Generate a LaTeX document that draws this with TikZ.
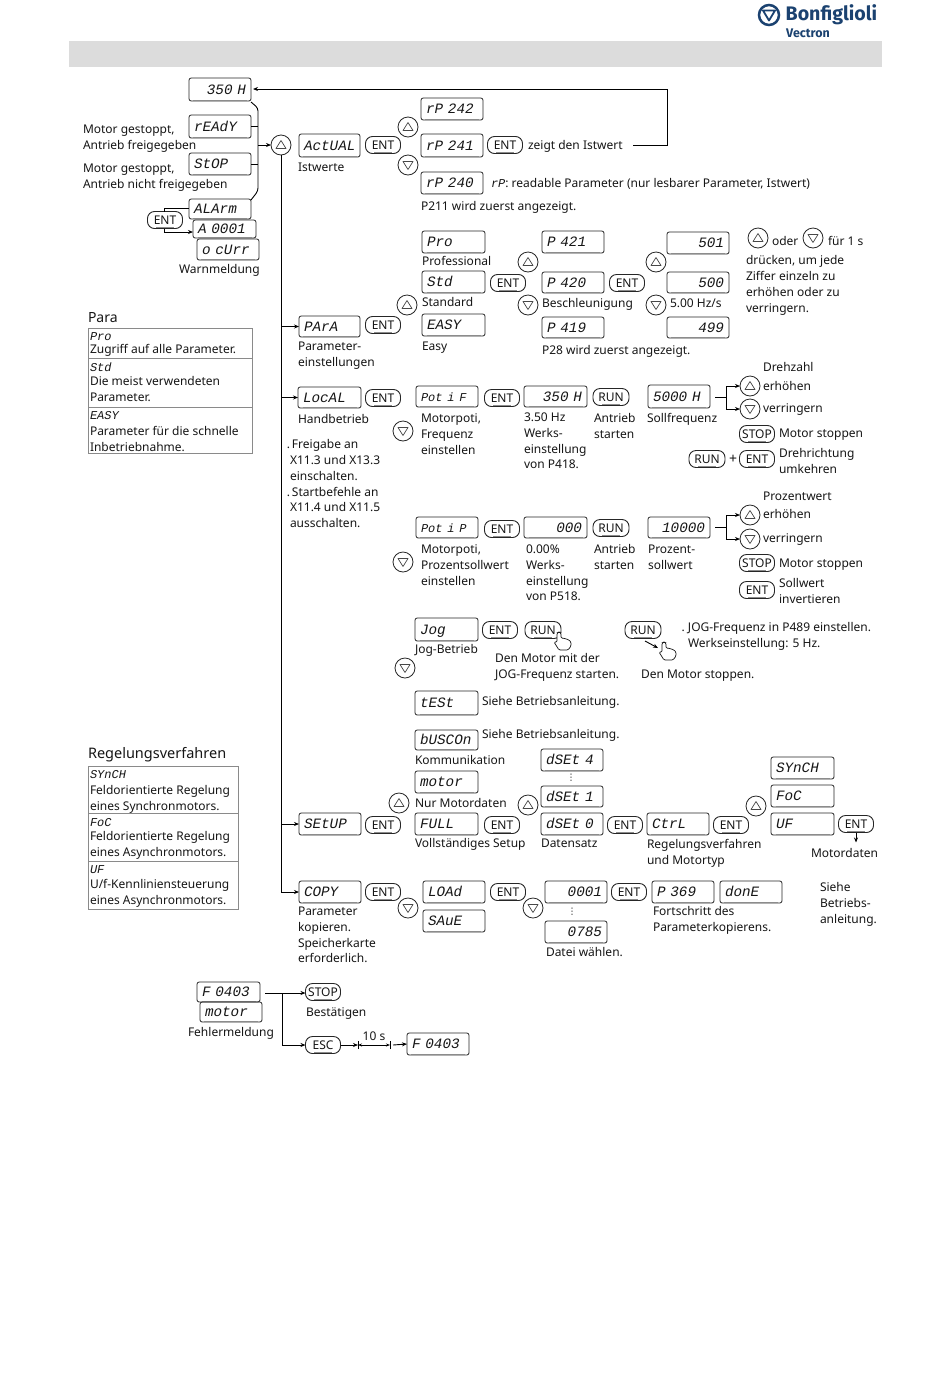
\documentclass[tikz,border=0pt]{standalone}
\usepackage{fontspec}
\setmainfont{Noto Sans}
\newfontfamily\segf{Liberation Mono}
\newfontfamily\logof{Fira Sans}
\newfontfamily\symf{DejaVu Sans}
\usetikzlibrary{arrows.meta}
\definecolor{inkc}{HTML}{161616}
\definecolor{bandc}{HTML}{DCDCDC}
\definecolor{logoc}{HTML}{1B4270}
\definecolor{tblc}{HTML}{8A8A8A}
\definecolor{edgec}{HTML}{262626}
\tikzset{
  lab/.style={anchor=north west,inner sep=0,outer sep=0,align=left,text=inkc,font=\fontsize{12}{15.8}\selectfont},
  dispbox/.style={draw=edgec,line width=.8pt,rounded corners=2.2pt,inner sep=0,outer sep=0,text=inkc,text height=9pt,text depth=0pt,font=\segf\itshape\fontsize{14.3}{15}\selectfont},
  btn/.style={draw=edgec,line width=.9pt,rounded corners=7pt,inner sep=0,outer sep=0,minimum height=17pt,text=inkc,font=\fontsize{12}{12}\selectfont,text height=9pt,text depth=0pt},
  shade/.style={draw=black!45,line width=1.2pt},
  cbtn/.style={circle,draw=edgec,line width=.8pt,inner sep=0,outer sep=0,minimum size=20pt},
  wire/.style={draw=black,line width=.9pt},
  arr/.style={wire,-{Stealth[length=5pt,width=4pt]}},
  tri/.style={draw=edgec!85,line width=.7pt,line join=round},
  tbl/.style={draw=tblc,line width=.7pt,inner sep=0,outer sep=0,fill=none},
  hand/.style={draw=inkc,line width=.7pt,rounded corners=1.2pt,fill=white}
}
% name, xl, yt, xr, yb, align, text
\newcommand\dsp[7]{\node[dispbox,minimum width={(#4-#2)*1pt},minimum height={(#5-#3)*1pt},text width={(#4-#2-10)*1pt},align=#6] (#1) at ({(#2+#4)/2},{(#3+#5)/2}) {#7};\draw[shade] ([xshift=-27pt,yshift=.8pt]#1.south) -- ([xshift=27pt,yshift=.8pt]#1.south);}
\newcommand\btnn[5]{\node[btn,minimum width={#4*1pt}] (#1) at (#2,#3) {#5};\draw[shade] ([xshift=-9pt,yshift=.8pt]#1.south) -- ([xshift=9pt,yshift=.8pt]#1.south);}
\newcommand\ent[3]{\btnn{#1}{#2}{#3}{35}{ENT}}
\newcommand\upbtn[3]{\node[cbtn] (#1) at (#2,#3) {}; \draw[tri] ([shift={(-5,3.5)}]#1.center) -- ([shift={(5,3.5)}]#1.center) -- ([shift={(0,-4.5)}]#1.center) -- cycle;}
\newcommand\dnbtn[3]{\node[cbtn] (#1) at (#2,#3) {}; \draw[tri] ([shift={(-5,-3.5)}]#1.center) -- ([shift={(5,-3.5)}]#1.center) -- ([shift={(0,4.5)}]#1.center) -- cycle;}
\newcommand\lb[4]{\node[lab] (#1) at ({#2},{#3-4.5}) {\rule{0pt}{9pt}#4};}
\newcommand\sg[1]{{\segf\itshape #1}}
\newcommand\handicon[3]{\draw[hand,shift={(#2,#3)}] (5,18) -- (0,10) -- (3,10) -- (3,1) -- (5,0) -- (7,1) -- (7,6) -- (11,6.5) -- (15,8) -- (17,10) -- (17,14) -- (14,18) -- cycle; \coordinate (#1) at (#2,#3+6);}
\begin{document}
\begin{tikzpicture}[x=1pt,y=-1pt]
\useasboundingbox (0,0) rectangle (950,1374);
\fill[white] (0,0) rectangle (950,1374);
% header
\node[fill=bandc,minimum width=813pt,minimum height=26pt,inner sep=0,outer sep=0] (band) at (475.5,54) {};
\node[circle,draw=logoc,line width=2.5pt,minimum size=20pt,inner sep=0] (logoring) at (769,15) {};
\draw[logoc,line width=1.8pt,line join=round] (763,10.5) -- (775,10.5) -- (769,20.5) -- cycle;
\node[anchor=west,inner sep=0,text=logoc,font=\logof\bfseries\fontsize{19.6}{19.6}\selectfont] (logotxt) at (785.5,15) {Bonfiglioli};
\node[anchor=west,inner sep=0,text=logoc,font=\logof\bfseries\fontsize{12.5}{12.5}\selectfont] (logosub) at (786,33) {Vectron};
% top column
\dsp{d350}{189}{78}{251}{101}{right}{350 H}
\dsp{dready}{189}{115}{251}{138}{left}{rEAdY}
\dsp{dstop}{189}{153}{251}{175}{left}{StOP}
\dsp{dalarm}{189}{199}{251}{219}{left}{ALArm}
\dsp{da0001}{193}{220}{256}{238}{left}{A 0001}
\dsp{docurr}{197}{239}{259}{260}{left}{o cUrr}
\lb{tm1}{83}{129}{Motor gestoppt,\\Antrieb freigegeben}
\lb{tm2}{83}{168}{Motor gestoppt,\\Antrieb nicht freigegeben}
\lb{twarn}{179}{269}{Warnmeldung}
\ent{ewarn}{165}{220}
\upbtn{up1}{281}{145}
\dsp{dactual}{299}{134}{360}{157}{left}{ActUAL}
\lb{tist}{298}{167}{Istwerte}
\ent{eact}{383}{145}
\upbtn{uprp}{408}{127}
\dnbtn{dnrp}{408}{165}
\dsp{drp242}{421}{98}{483}{120}{left}{rP 242}
\dsp{drp241}{421}{134}{483}{157}{left}{rP 241}
\dsp{drp240}{421}{172}{483}{194}{left}{rP 240}
\ent{erp}{505}{145}
\lb{tzeigt}{528}{145}{zeigt den Istwert}
\lb{trp}{491}{183}{\sg{rP}: readable Parameter (nur lesbarer Parameter, Istwert)}
\lb{tp211}{421}{206}{P211 wird zuerst angezeigt.}
% para
\dsp{dpara}{299}{316}{360}{337}{left}{PArA}
\lb{tpara}{298}{346}{Parameter-\\einstellungen}
\ent{epara}{383}{325}
\upbtn{uppara}{407}{305}
\dsp{dpro}{422}{231}{485}{253}{left}{Pro}
\lb{tpro}{422}{261}{Professional}
\dsp{dstd}{422}{271}{485}{293}{left}{Std}
\lb{tstd}{422}{302}{Standard}
\dsp{deasy}{422}{314}{485}{336}{left}{EASY}
\lb{teasy}{422}{346}{Easy}
\ent{estd}{508}{283}
\upbtn{upp1}{528}{262}
\dnbtn{dnp1}{528}{305}
\dsp{dp421}{542}{231}{604}{253}{left}{P 421}
\dsp{dp420}{542}{272}{604}{293}{left}{P 420}
\dsp{dp419}{542}{317}{604}{338}{left}{P 419}
\lb{tbes}{542}{303}{Beschleunigung}
\lb{tp28}{542}{350}{P28 wird zuerst angezeigt.}
\ent{ep420}{627}{283}
\upbtn{upp2}{656}{262}
\dnbtn{dnp2}{656}{305}
\dsp{d501}{667}{232}{729}{254}{right}{501}
\dsp{d500}{667}{272}{729}{293}{right}{500}
\dsp{d499}{667}{317}{729}{338}{right}{499}
\lb{t500}{670}{303}{5.00 Hz/s}
\upbtn{upleg}{758}{238}
\dnbtn{dnleg}{813}{238}
\lb{toder}{772}{241}{oder}
\lb{tfuer}{828}{241}{für 1 s}
\lb{tdruck}{746}{260}{drücken, um jede\\Ziffer einzeln zu\\erhöhen oder zu\\verringern.}
% table Para
\node[lab,font=\fontsize{14}{14}\selectfont] (tparat) at (88,312) {Para};
\node[tbl,minimum width=164pt,minimum height=30pt] (tp1) at (170,343) {};
\node[tbl,minimum width=164pt,minimum height=49pt] (tp2) at (170,382.5) {};
\node[tbl,minimum width=164pt,minimum height=46pt] (tp3) at (170,430) {};
\lb{tpa1}{90}{336}{\sg{Pro}\\[-3pt]Zugriff auf alle Parameter.}
\lb{tpa2}{90}{367}{\sg{Std}\\[-1.5pt]Die meist verwendeten\\Parameter.}
\lb{tpa3}{90}{415}{\sg{EASY}\\Parameter für die schnelle\\Inbetriebnahme.}
% Local
\dsp{dlocal}{298}{387}{361}{408}{left}{LocAL}
\lb{thand}{298}{419}{Handbetrieb}
\ent{eloc}{383}{398}
\lb{tfrei}{290}{444}{\llap{.}\,Freigabe an\\X11.3 und X13.3\\einschalten.\\\llap{.}\,Startbefehle an\\X11.4 und X11.5\\ausschalten.}
\dnbtn{dnloc}{403}{431}
\dsp{dpotf}{416}{386}{478}{407}{left}{\fontsize{12}{12}\selectfont Pot i F}
\lb{tmf}{421}{418}{Motorpoti,\\Frequenz\\einstellen}
\ent{epotf}{502}{398}
\dsp{d350b}{524}{386}{587}{407}{right}{350 H}
\lb{t350}{524}{417}{3.50 Hz\\Werks-\\einstellung\\von P418.}
\btnn{rf}{611}{397}{36}{RUN}
\lb{taf}{594}{418}{Antrieb\\starten}
\dsp{d5000}{648}{385}{710}{408}{left}{5000 H}
\lb{tsoll}{647}{418}{Sollfrequenz}
\lb{tdreh}{763}{367}{Drehzahl}
\upbtn{upf}{750}{386}
\dnbtn{dnf}{750}{409}
\lb{terh}{763}{386}{erhöhen}
\lb{tver}{763}{408}{verringern}
\btnn{stopf}{757}{434}{35}{STOP}
\lb{tms}{779}{433}{Motor stoppen}
\btnn{runrv}{707}{459}{36}{RUN}
\node[inner sep=0,font=\fontsize{14}{14}\selectfont,text=inkc] (plus) at (733,459) {+};
\ent{entrv}{757}{459}
\lb{tdr}{779}{453}{Drehrichtung\\umkehren}
% Local row 2
\dnbtn{dnpp}{403}{562}
\dsp{dpotp}{416}{517}{478}{538}{left}{\fontsize{12}{12}\selectfont Pot i P}
\lb{tmp}{421}{549}{Motorpoti,\\Prozentsollwert\\einstellen}
\ent{epotp}{502}{529}
\dsp{d000}{524}{517}{587}{538}{right}{000}
\lb{t000}{526}{549}{0.00\%\\Werks-\\einstellung\\von P518.}
\btnn{rp}{611}{528}{36}{RUN}
\lb{tap}{594}{549}{Antrieb\\starten}
\dsp{d10000}{648}{517}{710}{538}{right}{10000}
\lb{tproz}{648}{549}{Prozent-\\sollwert}
\lb{tpw}{763}{496}{Prozentwert}
\upbtn{upq}{750}{515}
\dnbtn{dnq}{750}{539}
\lb{terq}{763}{514}{erhöhen}
\lb{tveq}{763}{538}{verringern}
\btnn{stopq}{757}{563}{35}{STOP}
\lb{tmq}{779}{563}{Motor stoppen}
\ent{entq}{757}{590}
\lb{tsi}{779}{583}{Sollwert\\invertieren}
% Jog
\dsp{djog}{415}{618}{478}{641}{left}{Jog}
\lb{tjog}{415}{649}{Jog-Betrieb}
\dnbtn{dnjog}{405}{668}
\ent{ejog}{500}{630}
\btnn{rjog}{543}{630}{36}{RUN}
\handicon{hand1}{554}{632}
\lb{tjm}{495}{658}{Den Motor mit der\\JOG-Frequenz starten.}
\btnn{rjog2}{643}{630}{36}{RUN}
\handicon{hand2}{659}{642}
\lb{tjs}{641}{674}{Den Motor stoppen.}
\lb{tjf}{688}{627}{\llap{.\ }JOG-Frequenz in P489 einstellen.\\Werkseinstellung: 5 Hz.}
\dsp{dtest}{415}{691}{478}{715}{left}{tESt}
\lb{tt1}{482}{701}{Siehe Betriebsanleitung.}
\dsp{dbus}{415}{730}{478}{750}{left}{bUSCOn}
\lb{tt2}{482}{734}{Siehe Betriebsanleitung.}
\lb{tkom}{415}{760}{Kommunikation}
% Setup
\dsp{dsetup}{299}{813}{361}{835}{left}{SEtUP}
\ent{eset}{383}{825}
\upbtn{upset}{399}{803}
\dsp{dmotor}{415}{771}{478}{793}{left}{motor}
\lb{tnm}{415}{803}{Nur Motordaten}
\dsp{dfull}{415}{813}{478}{835}{left}{FULL}
\lb{tvs}{415}{843}{Vollständiges Setup}
\ent{efull}{502}{825}
\upbtn{upds}{528}{805}
\dsp{dset4}{541}{749}{603}{771}{left}{dSEt 4}
\node[inner sep=0,font=\symf\fontsize{9}{9}\selectfont,text=inkc] (dots1) at (571,778) {⋮};
\dsp{dset1}{541}{786}{603}{807}{left}{dSEt 1}
\dsp{dset0}{541}{813}{603}{835}{left}{dSEt 0}
\lb{tds}{541}{843}{Datensatz}
\ent{eds}{625}{825}
\dsp{dctrl}{647}{813}{709}{835}{left}{CtrL}
\lb{trv}{647}{844}{Regelungsverfahren\\und Motortyp}
\ent{ectrl}{731}{825}
\upbtn{upctrl}{756}{806}
\dsp{dsyn}{771}{757}{834}{779}{left}{SYnCH}
\dsp{dfoc}{771}{785}{834}{807}{left}{FoC}
\dsp{duf}{771}{813}{834}{835}{left}{UF}
\ent{euf}{856}{824}
\lb{tmd}{811}{853}{Motordaten}
\lb{tsb}{820}{887}{Siehe\\Betriebs-\\anleitung.}
% table Regelung
\node[lab,font=\fontsize{14.5}{14.5}\selectfont] (tregt) at (88,747) {Regelungsverfahren};
\node[tbl,minimum width=150pt,minimum height=47pt] (tr1) at (163,789.5) {};
\node[tbl,minimum width=150pt,minimum height=48pt] (tr2) at (163,837) {};
\node[tbl,minimum width=150pt,minimum height=48pt] (tr3) at (163,885) {};
\lb{trg1}{90}{774}{\sg{SYnCH}\\Feldorientierte Regelung\\eines Synchronmotors.}
\lb{trg2}{90}{822}{\sg{FoC}\\[-1.5pt]Feldorientierte Regelung\\eines Asynchronmotors.}
\lb{trg3}{90}{869}{\sg{UF}\\[-1pt]U/f-Kennliniensteuerung\\eines Asynchronmotors.}
% Copy
\dsp{dcopy}{299}{881}{361}{903}{left}{COPY}
\lb{tcopy}{298}{911}{Parameter\\kopieren.\\Speicherkarte\\erforderlich.}
\ent{ecopy}{383}{892}
\dnbtn{dncopy}{408}{908}
\dsp{dload}{423}{881}{485}{903}{left}{LOAd}
\dsp{dsave}{423}{910}{485}{932}{left}{SAuE}
\ent{eload}{508}{892}
\dnbtn{dnload}{533}{908}
\dsp{d0001}{545}{881}{607}{903}{right}{0001}
\node[inner sep=0,font=\symf\fontsize{9}{9}\selectfont,text=inkc] (dots2) at (572,912) {⋮};
\dsp{d0785}{545}{921}{607}{943}{right}{0785}
\lb{tdatei}{546}{952}{Datei wählen.}
\ent{e0001}{629}{892}
\dsp{dp369}{652}{881}{714}{903}{left}{P 369}
\dsp{ddone}{720}{881}{782}{903}{left}{donE}
\lb{tfort}{653}{911}{Fortschritt des\\Parameterkopierens.}
% Fehler
\dsp{df0403}{197}{982}{260}{1002}{left}{F 0403}
\dsp{dfmotor}{200}{1002}{262}{1022}{left}{motor}
\lb{tfm}{188}{1032}{Fehlermeldung}
\btnn{bstop}{323}{992}{35}{STOP}
\lb{tbest}{306}{1012}{Bestätigen}
\btnn{besc}{323}{1045}{35}{ESC}
\dsp{df0403b}{407}{1033}{469}{1055}{left}{F 0403}
\node[inner sep=0,font=\fontsize{12}{12}\selectfont,text=inkc] (t10s) at (374,1036) {10 s};
% connectors
\coordinate (loopa) at (667,145);
\coordinate (loopb) at (667,89);
\coordinate (loops) at (633,145);
\draw[arr] (loops) -- (loopa) -- (loopb) -- ([xshift=2pt]d350.east |- loopb);
\coordinate (brt) at (258,108);
\coordinate (brb) at (258,191);
\coordinate (brm) at (258,145);
\draw[wire,rounded corners=3pt] ([yshift=-1pt]d350.south east) -- (brt) -- (brb) -- ([yshift=-1pt]dalarm.north east);
\draw[wire] (dready.east) -- (dready.east -| brt);
\draw[wire] (dstop.east) -- (dstop.east -| brt);
\draw[arr] (brm) -- (up1.west);
\coordinate (ew1) at (164,208);
\coordinate (ew2) at (164,232);
\draw[wire] (ewarn.north -| ew1) -- (ew1) -- (dalarm.west |- ew1);
\draw[arr] (ewarn.south -| ew2) -- (ew2) -- (da0001.west |- ew2);
\draw[arr] (up1.south) |- (dpara.west);
\draw[arr] (up1.south) |- (dlocal.west);
\draw[arr] (up1.south) |- (dsetup.west);
\draw[arr] (up1.south) |- (dcopy.west);
% freq branches
\coordinate (bf) at (726,397);
\draw[wire] ([xshift=5pt]d5000.east |- bf) -- (bf);
\draw[arr] (bf) |- (upf.west);
\draw[arr] (bf) |- (dnf.west);
\coordinate (bq) at (726,527);
\draw[wire] ([xshift=5pt]d10000.east |- bq) -- (bq);
\draw[arr] (bq) |- (upq.west);
\draw[arr] (bq) |- (dnq.west);
% jog hook
\coordinate (hk1) at (645,641);
\draw[arr] (hk1) -- ([xshift=-1pt]hand2);
% uf arrow
\draw[arr] (euf.south) -- ++(0,10);
% errors
\coordinate (ferr) at (282,993);
\draw[arr] ([xshift=5pt]df0403.east |- ferr) -- (bstop.west |- ferr);
\draw[arr] (ferr) |- (besc.west);
\coordinate (t1) at (358,1045);
\coordinate (t2) at (390,1045);
\draw[arr] (besc.east) -- (t1);
\draw[wire] ([yshift=-4pt]t1) -- ([yshift=4pt]t1);
\draw[wire] ([yshift=-4pt]t2) -- ([yshift=4pt]t2);
\draw[wire,{Stealth[length=4pt,width=3pt]}-{Stealth[length=4pt,width=3pt]}] (t1) -- (t2);
\draw[arr] ([xshift=3pt]t2) -- (df0403b.west);
\end{tikzpicture}
\end{document}
